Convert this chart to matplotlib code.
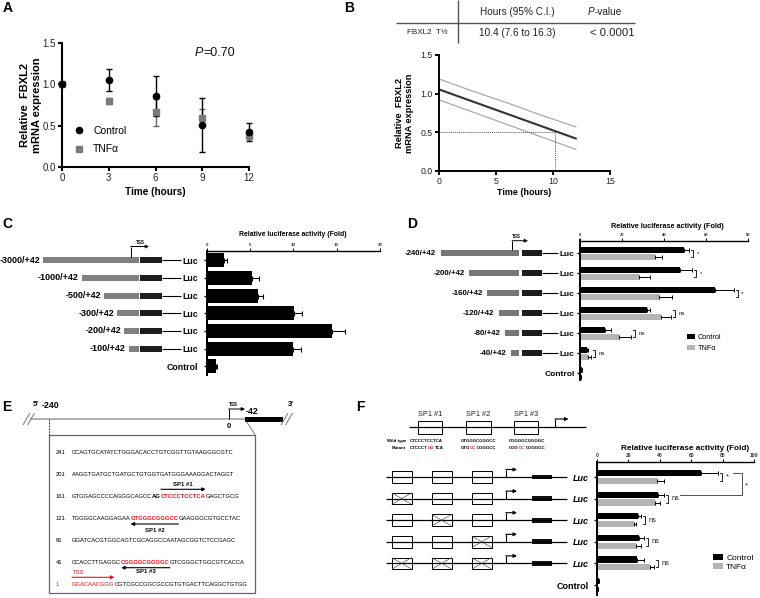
import numpy as np
import matplotlib
matplotlib.use('Agg')
import matplotlib.pyplot as plt
from matplotlib.patches import Rectangle

plt.rcParams['font.family'] = ['Liberation Sans', 'DejaVu Sans']

# ---------------- data ----------------
A_time = [0, 3, 6, 9, 12]
A_ctrl = [1.00, 1.05, 0.86, 0.51, 0.42]
A_ctrl_err = [0.00, 0.13, 0.24, 0.33, 0.11]
A_tnf = [1.00, 0.80, 0.66, 0.59, 0.38]
A_tnf_err = [0.00, 0.04, 0.16, 0.11, 0.04]
A_pvalue = '=0.70'

B_fit_time = [0, 12]
B_fit = [1.055, 0.42]
B_ci_time = [0, 3, 6, 9, 12]
B_ci_hi = [1.19, 1.03, 0.88, 0.72, 0.57]
B_ci_lo = [0.92, 0.76, 0.60, 0.44, 0.28]
B_halflife = 10.2
B_header = ['Hours (95% C.I.)', '-value']
B_row = ['FBXL2  T½', '10.4 (7.6 to 16.3)', '< 0.0001']

C_constructs = ['-3000/+42', '-1000/+42', '-500/+42', '-300/+42', '-200/+42', '-100/+42']
C_labels = ['Luc'] * 6 + ['Control']
C_values = [2.0, 5.25, 5.9, 10.1, 14.5, 10.0, 1.1]
C_err = [0.4, 0.75, 0.55, 0.95, 1.5, 0.9, 0.1]

D_constructs = ['-240/+42', '-200/+42', '-160/+42', '-120/+42', '-80/+42', '-40/+42']
D_labels = ['Luc'] * 6 + ['Control']
D_ctrl = [49.4, 47.8, 64.6, 31.9, 11.8, 3.2, 1.0]
D_ctrl_err = [2.6, 5.6, 8.7, 1.6, 2.9, 0.5, 0.1]
D_tnf = [35.7, 28.0, 37.6, 38.8, 18.5, 4.0, 0.6]
D_tnf_err = [3.5, 5.2, 6.1, 4.7, 5.7, 1.1, 0.1]
D_sig = ['*', '*', '*', 'ns', 'ns', 'ns']

E_numbers = ['241', '201', '161', '121', '81', '41', '1']
E_seqs = [
    [('CCAGTGCATATCTGGGACACCTGTCGGTTGTAAGGGCGTC', 'k', 'normal')],
    [('AAGGTGATGCTGATGCTGTGGTGATGGGAAAGGACTAGGT', 'k', 'normal')],
    [('GTGGAGCCCCAGGGCAGCC', 'k', 'normal'), ('AG', 'k', 'bold'),
     ('CTCCCTCCTCA', 'r', 'bold'), ('GAGCTGCG', 'k', 'normal')],
    [('TGGGGCAAGGAGAA', 'k', 'normal'), ('GTGGGCGGGCC', 'r', 'bold'),
     ('GAAGGGCGTGCCTAC', 'k', 'normal')],
    [('GGATCACGTGGCAGTCGCAGGCCAATAGCGGTCTCCGAGC', 'k', 'normal')],
    [('CCACCTTGAGGC', 'k', 'normal'), ('CGGGGCGGGGC', 'r', 'bold'),
     ('GTCGGGCTGGCGTCACCA', 'k', 'normal')],
    [('GGACAACGGG', 'r', 'normal'), ('CGTCGCCGGCGCCGTGTGACTTCAGGCTGTGG', 'k', 'normal')],
]

F_sites = ['SP1 #1', 'SP1 #2', 'SP1 #3']
F_wild = ['CTCCCTCCTCA', 'GTGGGCGGGCC', 'CGGGGCGGGGC']
F_mutant = [[('CTCCCT', 'k'), ('GG', 'r'), ('TCA', 'k')],
            [('GTG', 'k'), ('CC', 'r'), ('CGGGCC', 'k')],
            [('CGG', 'k'), ('CC', 'r'), ('CGGGGC', 'k')]]
F_labels = ['Luc'] * 5 + ['Control']
F_mutated = [[0, 0, 0], [1, 0, 0], [0, 1, 0], [0, 0, 1], [1, 1, 1]]
F_ctrl = [66.2, 38.9, 26.4, 26.8, 25.5, 1.2]
F_ctrl_err = [11.0, 3.9, 1.9, 3.2, 4.5, 0.1]
F_tnf = [38.5, 36.8, 23.6, 25.1, 33.8, 0.6]
F_tnf_err = [4.3, 3.4, 1.1, 2.8, 2.6, 0.1]
F_sig = ['*', 'ns', 'ns', 'ns', 'ns']

RED = '#e8141c'

# ---------------- figure ----------------
W, H = 760, 598
fig = plt.figure(figsize=(W / 100, H / 100), dpi=100)
ov = fig.add_axes([0, 0, 1, 1])
ov.set_xlim(0, W)
ov.set_ylim(H, 0)
ov.axis('off')
R = fig.canvas.get_renderer()


def pax(x0, y0, x1, y1):
    a = fig.add_axes([x0 / W, 1 - y1 / H, (x1 - x0) / W, (y1 - y0) / H])
    a.patch.set_alpha(0)
    return a


def txt(x, y, s, size, ha='left', va='center', fit=None, **kw):
    t = ov.text(x, y, s, fontsize=size, ha=ha, va=va, **kw)
    if fit:
        w = t.get_window_extent(R).width
        t.set_fontsize(size * fit / w)
    return t


def fitsize(s, width, weight='normal'):
    t = ov.text(0, 0, s, fontsize=10, fontweight=weight)
    w = t.get_window_extent(R).width
    t.remove()
    return 10 * width / w


def rich(x, y, pieces, size, va='center'):
    xs = [x]
    for s, c, wgt in pieces:
        col = RED if c == 'r' else c
        t = ov.text(x, y, s, fontsize=size, color=col, fontweight=wgt, ha='left', va=va)
        x += t.get_window_extent(R).width
        xs.append(x)
    return xs


def line(xs, ys, c='k', lw=0.8, **kw):
    ov.plot(xs, ys, color=c, lw=lw, solid_capstyle='butt', **kw)


def rect(x0, y0, x1, y1, fc, ec='none', lw=0):
    ov.add_patch(Rectangle((x0, y0), x1 - x0, y1 - y0, fc=fc, ec=ec, lw=lw))


def arrow(x0, y0, x1, y1, c='k', lw=0.8, ms=5):
    ov.annotate('', xy=(x1, y1), xytext=(x0, y0),
                arrowprops=dict(arrowstyle='-|>', color=c, lw=lw, mutation_scale=ms,
                                shrinkA=0, shrinkB=0))


# panel letters
for lab, x, y in [('A', 3, 8), ('B', 344, 8), ('C', 2, 224), ('D', 407, 224),
                  ('E', 2, 407), ('F', 356, 407)]:
    txt(x, y, lab, 10, fontweight='bold')


def gp_style(ax, lw=1.5, ls=7):
    for s in ['top', 'right']:
        ax.spines[s].set_visible(False)
    for s in ['left', 'bottom']:
        ax.spines[s].set_linewidth(lw)
    ax.tick_params(direction='out', length=3, width=lw, labelsize=ls, pad=1.5, colors='k',
                   labelcolor='#222')


# ---------------- panel A ----------------
axA = pax(62, 43, 249, 167)
gp_style(axA)
axA.set_xlim(0, 12)
axA.set_ylim(0, 1.5)
axA.set_xticks(A_time)
axA.set_yticks([0, 0.5, 1.0, 1.5])
axA.set_yticklabels(['0.0', '0.5', '1.0', '1.5'])
te = np.array(A_tnf_err, float); te[te == 0] = np.nan
ce = np.array(A_ctrl_err, float); ce[ce == 0] = np.nan
axA.errorbar(A_time, A_tnf, yerr=te, fmt='none', ecolor='#666', capsize=2.5,
             elinewidth=1, capthick=1, clip_on=False, zorder=3)
axA.errorbar(A_time, A_ctrl, yerr=ce, fmt='none', ecolor='k', capsize=2.5,
             elinewidth=1, capthick=1, clip_on=False, zorder=4)
axA.plot(A_time, A_ctrl, 'o', color='k', ms=4.5, clip_on=False, zorder=6, label='Control')
axA.plot(A_time, A_tnf, 's', color='#7a7a7a', ms=4, clip_on=False, zorder=5, label='TNFα')
axA.legend(loc='upper left', bbox_to_anchor=(73.8 / W, 1 - 125.8 / H),
           bbox_transform=fig.transFigure, frameon=False, fontsize=7.5, borderpad=0,
           borderaxespad=0, handlelength=1.0, handletextpad=0.85, labelspacing=0.83,
           numpoints=1)
axA.set_ylabel('Relative  FBXL2\nmRNA expression', fontsize=8, fontweight='bold')
axA.yaxis.set_label_coords((42 - 62) / 187, 0.5)
axA.set_xlabel('Time (hours)', fontsize=7.2, fontweight='bold')
axA.xaxis.set_label_coords(0.5, (167 - 187) / 124)
pa = rich(195, 53, [('P', '#111', 'normal')], 9)
ov.texts[-1].set_style('italic')
rich(pa[-1], 53, [(A_pvalue, '#111', 'normal')], 9)

# ---------------- panel B ----------------
line([458, 458], [0, 43], c='#555', lw=1)
line([396, 635], [23, 23], c='#555', lw=1)
txt(517, 12, B_header[0], 7.2, ha='center', color='#222')
pp = txt(588, 12, 'P', 7.2, ha='left', color='#222', style='italic')
wP = pp.get_window_extent(R).width
txt(588 + wP, 12, B_header[1], 7.2, ha='left', color='#222')
txt(427, 33, B_row[0], 6, ha='center', color='#222', fit=41)
txt(517, 33, B_row[1], 7.2, ha='center', color='#222')
txt(612, 33, B_row[2], 8.2, ha='center', color='#222')

axB = pax(439, 55, 610, 171)
gp_style(axB, lw=1.4, ls=6.3)
axB.set_xlim(0, 15)
axB.set_ylim(0, 1.5)
axB.set_xticks([0, 5, 10, 15])
axB.set_yticks([0, 0.5, 1.0, 1.5])
axB.set_yticklabels(['0.0', '0.5', '1.0', '1.5'])
axB.plot(B_ci_time, B_ci_hi, color='#aaaaaa', lw=0.9)
axB.plot(B_ci_time, B_ci_lo, color='#aaaaaa', lw=0.9)
axB.plot(B_fit_time, B_fit, color='#333333', lw=1.5)
axB.plot([0, B_halflife], [0.5, 0.5], color='#555', lw=0.7, ls=(0, (1, 1)))
axB.plot([B_halflife, B_halflife], [0, 0.5], color='#555', lw=0.7, ls=(0, (1, 1)))
axB.set_ylabel('Relative  FBXL2\nmRNA expression', fontsize=6.7, fontweight='bold')
axB.yaxis.set_label_coords((414 - 439) / 171, 0.5)
axB.set_xlabel('Time (hours)', fontsize=6.4, fontweight='bold')
axB.xaxis.set_label_coords(0.5, (171 - 188) / 116)


# ---------------- bar-axes helper ----------------
def lucaxes(ax, xmax, xticks, labels, tick_fs, lab_fs, lw=1.4):
    ax.spines['bottom'].set_visible(False)
    ax.spines['right'].set_visible(False)
    ax.spines['left'].set_linewidth(lw)
    ax.spines['top'].set_linewidth(1.0)
    ax.set_xlim(0, xmax)
    ax.xaxis.tick_top()
    ax.set_xticks(xticks)
    ax.tick_params(axis='x', labelsize=tick_fs, length=2, width=0.7, pad=0.6, labelcolor='#333')
    ax.set_yticks(range(len(labels)))
    ax.set_yticklabels(labels, fontweight='bold')
    ax.tick_params(axis='y', labelsize=lab_fs, length=2.5, width=1, pad=1.5)
    for t in ax.get_xticklabels():
        t.set_fontweight('bold')


# ---------------- panel C ----------------
C_y0, C_dy = 260.3, 17.67
C_gray_start = [43, 82, 104, 117, 124, 129]
for i, lab in enumerate(C_constructs):
    y = C_y0 + i * C_dy
    txt(C_gray_start[i] - 3, y, lab, 6.5, ha='right', fontweight='bold')
    rect(C_gray_start[i], y - 2.9, 138.5, y + 2.9, '#808080')
    rect(140, y - 2.9, 162, y + 2.9, '#1c1c1c')
    line([162, 180.5], [y, y], lw=0.8)
line([131, 131], [257.4, 246.5], lw=0.7)
arrow(130.8, 246.5, 149, 246.5, ms=5, lw=0.7)
txt(136, 242.5, 'TSS', 3.3, fontweight='bold')

axC = pax(206.7, 250.7, 380, 375)
lucaxes(axC, 20, [0, 5, 10, 15, 20], C_labels, 3.2, 6.3)
axC.tick_params(axis='y', pad=3.5)
axC.set_ylim(6.49, -0.54)
axC.barh(range(7), C_values, height=0.78, color='k',
         xerr=[np.zeros(7), C_err],
         error_kw=dict(ecolor='k', capsize=1.8, elinewidth=0.8, capthick=0.8))
txt(293, 235, 'Relative luciferase activity (Fold)', 5, ha='center', fontweight='bold', fit=109)

# ---------------- panel D ----------------
D_y0, D_dy = 253.3, 20.0
D_gray_start = [440.7, 469.3, 487.3, 499, 505, 510.7]
for i, lab in enumerate(D_constructs):
    y = D_y0 + i * D_dy
    txt(D_gray_start[i] - 4.5, y, lab, 5.7, ha='right', fontweight='bold')
    rect(D_gray_start[i], y - 2.9, 519.3, y + 2.9, '#777777')
    rect(521.7, y - 2.9, 542.3, y + 2.9, '#1c1c1c')
    line([542.3, 557.5], [y, y], lw=0.8)
line([512.3, 512.3], [250.4, 240.7], lw=0.7)
arrow(512.1, 240.7, 528, 240.7, ms=5, lw=0.7)
txt(511.7, 236.7, 'TSS', 3.3, fontweight='bold')

axD = pax(580, 240.5, 747.7, 380)
lucaxes(axD, 80, [0, 20, 40, 60, 80], D_labels, 3.0, 6.0)
axD.set_ylim(6.335, -0.64)
yD = np.arange(7)
off, hb = 0.175, 0.29
ek = dict(ecolor='k', capsize=1.5, elinewidth=0.7, capthick=0.7)
axD.barh(yD - off, D_ctrl, height=hb, color='k', xerr=[np.zeros(7), D_ctrl_err],
         error_kw=ek, label='Control')
axD.barh(yD + off, D_tnf, height=hb, color='#b4b4b4', xerr=[np.zeros(7), D_tnf_err],
         error_kw=ek, label='TNFα')
for i, s in enumerate(D_sig):
    xb = max(D_ctrl[i] + D_ctrl_err[i], D_tnf[i] + D_tnf_err[i]) + 2
    axD.plot([xb - 1, xb, xb, xb - 1], [i - off, i - off, i + off, i + off], color='k',
             lw=0.6, clip_on=False)
    axD.annotate(s, xy=(xb, i), xytext=(2.5, 0), textcoords='offset points', va='center',
                 fontsize=4.5, color='#222', annotation_clip=False)
axD.legend(loc='upper left', bbox_to_anchor=(687 / W, 1 - 334 / H),
           bbox_transform=fig.transFigure, frameon=False, fontsize=5.3, borderpad=0,
           borderaxespad=0, handlelength=1.1, handleheight=0.75, handletextpad=0.4,
           labelspacing=0.45)
txt(667, 226.5, 'Relative luciferase activity (Fold)', 5, ha='center', fontweight='bold', fit=115)

# ---------------- panel E ----------------
line([30, 245], [419, 419], c='#aaaaaa', lw=1.3)
rect(245, 416.6, 282.7, 421.6, 'k')
for x in (23, 27.5):
    line([x, x + 7], [425, 413], c='#777', lw=0.7)
for x in (281, 285.5):
    line([x, x + 7], [425, 413], c='#777', lw=0.7)
txt(33, 404.5, "5'", 5.5, fontweight='bold')
txt(41.5, 405.5, '-240', 6.3, fontweight='bold')
txt(288, 404.5, "3'", 5.5, fontweight='bold')
line([49.3, 49.3], [419, 435], c='#444', lw=0.7, ls=(0, (2, 1)))
line([228.7, 228.7], [419, 409], lw=0.7)
arrow(228.5, 409, 245, 409, ms=5, lw=0.7)
txt(229, 404.5, 'TSS', 3.3, fontweight='bold')
txt(229.3, 426.5, '0', 5.5, ha='center', fontweight='bold')
txt(246, 411, '-42', 6.3, fontweight='bold')
line([246.5, 255.3], [421.6, 435], c='#666', lw=0.6)
rect(49.3, 435, 255.3, 592.7, 'none', ec='#666', lw=0.9)

E_rows_y = [452.7, 474, 496.7, 518.7, 540.7, 562.7, 584.3]
fs_seq = fitsize(E_seqs[0][0][0], 163)
bounds = []
for i, (num, pieces) in enumerate(zip(E_numbers, E_seqs)):
    y = E_rows_y[i]
    txt(56, y, num, fs_seq, color=RED if num == '1' else 'k')
    bounds.append(rich(72, y, pieces, fs_seq))

# SP1 site arrows (row, piece, direction, arrow dy, label dy, label)
E_marks = [(2, 2, 1, -7.4, -11.7, 'SP1 #1'),
           (3, 1, -1, 5.3, 11.3, 'SP1 #2'),
           (5, 1, -1, 5.0, 9.0, 'SP1 #3')]
for r, p, d, dya, dyl, lab in E_marks:
    x0, x1 = bounds[r][p], bounds[r][p + 1]
    y = E_rows_y[r]
    if d > 0:
        arrow(x0, y + dya, x1, y + dya, ms=5, lw=0.8)
    else:
        arrow(x1, y + dya, x0, y + dya, ms=5, lw=0.8)
    txt((x0 + x1) / 2, y + dyl, lab, 4.3, ha='center', fontweight='bold')
x0, x1 = bounds[6][0], bounds[6][1]
arrow(x0, E_rows_y[6] - 7, x1, E_rows_y[6] - 7, c=RED, ms=5, lw=0.8)
txt(x0 + 0.5, E_rows_y[6] - 11.6, 'TSS', 4.3, color=RED)

# ---------------- panel F ----------------
F_box_x = [(417.7, 441.7), (466, 490.7), (514.3, 538.3)]
line([409.3, 586], [426.7, 426.7], lw=0.9)
for (a, b), lab in zip(F_box_x, F_sites):
    rect(a, 420.7, b, 434.3, 'white', ec='k', lw=0.7)
    txt((a + b) / 2, 415, lab, 5.3, ha='center', color='#222')
line([555.3, 555.3], [426.7, 419], lw=0.8)
arrow(555.1, 419, 568.5, 419, ms=5, lw=0.8)
fs_small = fitsize(F_wild[0], 33, weight='bold')
txt(406, 441, 'Wild type', fs_small, ha='right', fontweight='bold')
txt(406, 448.3, 'Mutant', fs_small, ha='right', fontweight='bold')
for xs, wt, mut in zip([410, 461, 509.3], F_wild, F_mutant):
    rich(xs, 441, [(wt, 'k', 'bold')], fs_small)
    rich(xs, 448.3, [(s, c, 'bold') for s, c in mut], fs_small)

F_y0, F_dy = 477.0, 21.6
F_cbox_x = [(391.7, 411.7), (431.7, 451.7), (471.7, 491.7)]
for i, mut in enumerate(F_mutated):
    y = F_y0 + i * F_dy
    line([386, 567], [y, y], lw=0.9)
    for (a, b), m in zip(F_cbox_x, mut):
        rect(a, y - 5.8, b, y + 5.8, 'white', ec='k', lw=0.7)
        if m:
            line([a, b], [y - 5.8, y + 5.8], lw=0.4, c='#333')
            line([a, b], [y + 5.8, y - 5.8], lw=0.4, c='#333')
    line([506, 506], [y, y - 7.5], lw=0.8)
    arrow(505.8, y - 7.5, 517, y - 7.5, ms=5, lw=0.8)
    rect(531.7, y - 2.4, 551.7, y + 2.4, '#111')

axF = pax(597, 461.5, 754, 595)
lucaxes(axF, 100, [0, 20, 40, 60, 80, 100], F_labels, 3.6, 6.5)
axF.set_ylim(5.46, -(F_y0 - 461.5) / F_dy)
axF.tick_params(axis='y', pad=3.5)
ylabs = axF.get_yticklabels()
for t in ylabs[:5]:
    t.set_style('italic')
yF = np.arange(6)
offF, hF = 0.18, 0.29
ekF = dict(ecolor='k', capsize=1.6, elinewidth=0.7, capthick=0.7)
axF.barh(yF - offF, F_ctrl, height=hF, color='k', xerr=[np.zeros(6), F_ctrl_err],
         error_kw=ekF, label='Control')
axF.barh(yF + offF, F_tnf, height=hF, color='#b3b3b3', xerr=[np.zeros(6), F_tnf_err],
         error_kw=ekF, label='TNFα')
for i, s in enumerate(F_sig):
    xb = max(F_ctrl[i] + F_ctrl_err[i], F_tnf[i] + F_tnf_err[i]) + 2.5
    axF.plot([xb - 1.2, xb, xb, xb - 1.2], [i - offF, i - offF, i + offF, i + offF],
             color='k', lw=0.6, clip_on=False)
    axF.annotate(s, xy=(xb, i), xytext=(2.5, 0), textcoords='offset points', va='center',
                 fontsize=5.3, color='#222', annotation_clip=False)
# comparison bracket between wild type and SP1 #1 mutant (control)
xo = max(F_ctrl[0] + F_ctrl_err[0], F_ctrl[1]) + 15
axF.plot([xo - 5.5, xo, xo, xo - 39.5], [-offF, -offF, 1 - offF, 1 - offF], color='#333',
         lw=0.6, clip_on=False)
axF.annotate('*', xy=(xo, 0.4), xytext=(2.5, 0), textcoords='offset points', va='center',
             fontsize=5.3, color='#222', annotation_clip=False)
axF.legend(loc='upper left', bbox_to_anchor=(713 / W, 1 - 553.5 / H),
           bbox_transform=fig.transFigure, frameon=False, fontsize=6, borderpad=0,
           borderaxespad=0, handlelength=1.2, handleheight=0.8, handletextpad=0.4,
           labelspacing=0.12)
txt(685, 449, 'Relative luciferase activity (Fold)', 5.5, ha='center', fontweight='bold', fit=127)

fig.savefig('out.png', dpi=100)
